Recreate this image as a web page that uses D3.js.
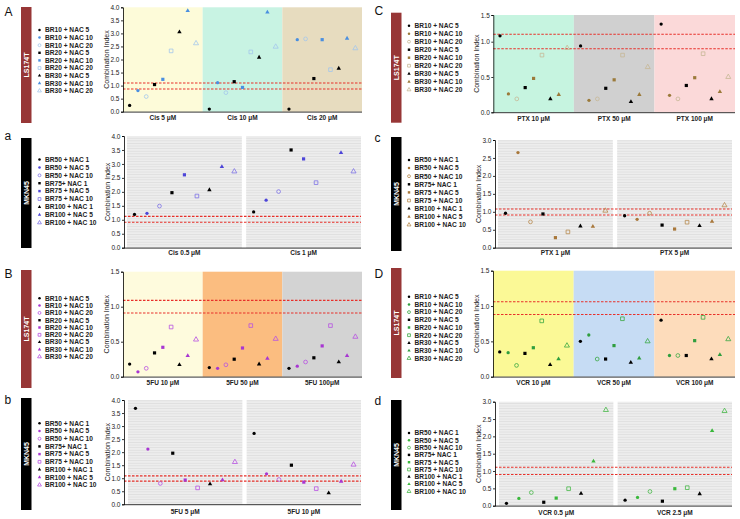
<!DOCTYPE html>
<html>
<head>
<meta charset="utf-8">
<script src="https://cdn.jsdelivr.net/npm/d3@7"></script>
<style>
  body { margin: 0; background: #fff; }
  svg { display: block; font-family: "Liberation Sans", Arial, sans-serif; }
</style>
</head>
<body>
<div id="chart"></div>
<script>
// legend labels
var legendLS = ['BR10 + NAC 5', 'BR10 + NAC 10', 'BR10 + NAC 20', 'BR20 + NAC 5', 'BR20 + NAC 10',
  'BR20 + NAC 20', 'BR30 + NAC 5', 'BR30 + NAC 10', 'BR30 + NAC 20'];
var legendMKN = ['BR50 + NAC 1', 'BR50 + NAC 5', 'BR50 + NAC 10', 'BR75+ NAC 1', 'BR75 + NAC 5',
  'BR75 + NAC 10', 'BR100 + NAC 1', 'BR100 + NAC 5', 'BR100 + NAC 10'];

// A - LS174T cisplatin
var groupsA = ['Cis 5 \u03bcM', 'Cis 10 \u03bcM', 'Cis 20 \u03bcM'];
var valuesA = [
  [0.24, 0.81, 0.58, 1.04, 1.24, 2.33, 3.05, 3.87, 2.62],
  [0.10, 1.11, 0.73, 1.15, 0.93, 2.29, 2.08, 3.81, 2.49],
  [0.10, 2.76, 2.79, 1.27, 2.76, 1.61, 1.66, 2.81, 2.43]
];
var ticksA = [0, 0.5, 1, 1.5, 2, 2.5, 3, 3.5, 4];
var cutA = [1.1, 0.87];

// a - MKN45 cisplatin
var groupsa = ['Cis 0.5 \u03bcM', 'Cis 1 \u03bcM'];
var valuesa = [
  [1.19, 1.23, 1.49, 1.97, 2.61, 1.85, 2.07, 2.90, 2.73],
  [1.28, 1.70, 2.01, 3.50, 3.18, 2.33, null, 3.40, 2.73]
];
var ticksa = [0, 0.5, 1, 1.5, 2, 2.5, 3, 3.5, 4];
var cuta = [1.12, 0.91];

// B - LS174T 5FU
var groupsB = ['5FU 10 \u03bcM', '5FU 50 \u03bcM', '5FU 100\u03bcM'];
var valuesB = [
  [0.18, 0.07, 0.12, 0.34, 0.42, 0.71, 0.17, 0.30, 0.53],
  [0.13, 0.12, 0.17, 0.25, 0.41, 0.73, 0.18, 0.26, 0.54],
  [0.12, 0.15, 0.21, 0.27, 0.44, 0.73, 0.21, 0.30, 0.57]
];
var ticksB = [0, 0.5, 1, 1.5];
var cutB = [1.09, 0.91];

// b - MKN45 5FU
var groupsb = ['5FU 5 \u03bcM', '5FU 10 \u03bcM'];
var valuesb = [
  [3.68, 2.12, 0.80, 1.96, 0.93, 0.63, 0.78, 0.93, 1.62],
  [2.72, 1.17, 0.95, 1.50, 0.85, 0.60, 0.43, 0.88, 1.52]
];
var ticksb = [0, 0.5, 1, 1.5, 2, 2.5, 3, 3.5, 4];
var cutb = [1.09, 0.89];

// C - LS174T paclitaxel
var groupsC = ['PTX 10 \u03bcM', 'PTX 50 \u03bcM', 'PTX 100 \u03bcM'];
var valuesC = [
  [1.11, 0.26, 0.19, 0.35, 0.48, 0.81, 0.19, 0.25, 0.91],
  [0.94, 0.17, 0.19, 0.34, 0.46, 0.81, 0.15, 0.25, 0.64],
  [1.33, 0.24, 0.19, 0.38, 0.49, 0.83, 0.19, 0.29, 0.50]
];
var ticksC = [0, 0.5, 1, 1.5];
var cutC = [1.14, 0.90];

// c - MKN45 paclitaxel
var groupsc = ['PTX 1 \u03bcM', 'PTX 5 \u03bcM'];
var valuesc = [
  [0.96, 2.65, 0.72, 0.94, 0.28, 0.44, 0.60, 0.59, 1.03],
  [0.89, 0.79, 0.96, 0.63, 0.52, 0.71, 0.61, 0.73, 1.18]
];
var ticksc = [0, 0.5, 1, 1.5, 2, 2.5, 3];
var cutc = [1.08, 0.91];

// D - LS174T vincristine
var groupsD = ['VCR 10 \u03bcM', 'VCR 50 \u03bcM', 'VCR 100 \u03bcM'];
var valuesD = [
  [0.35, 0.34, 0.16, 0.33, 0.41, 0.79, 0.17, 0.25, 0.44],
  [0.50, 0.59, 0.25, 0.25, 0.44, 0.82, 0.20, 0.26, 0.50],
  [0.80, 0.30, 0.30, 0.30, 0.51, 0.84, 0.25, 0.31, 0.53]
];
var ticksD = [0, 0.5, 1, 1.5];
var cutD = [1.06, 0.88];

// d - MKN45 vincristine
var groupsd = ['VCR 0.5 \u03bcM', 'VCR 2.5 \u03bcM'];
var valuesd = [
  [0.07, 0.21, 0.38, 0.10, 0.22, 0.49, 0.35, 1.28, 2.76],
  [0.16, 0.24, 0.41, 0.13, 0.49, 0.52, 0.34, 2.16, 2.73]
];
var ticksd = [0, 0.5, 1, 1.5, 2, 2.5, 3];
var cutd = [1.11, 0.90];

var W = 740, H = 519;
var svg = d3.select('#chart').append('svg').attr('width', W).attr('height', H);

// striped gray for the MKN45 panels
var pat = svg.append('defs').append('pattern')
  .attr('id', 'stripes').attr('patternUnits', 'userSpaceOnUse')
  .attr('width', 4).attr('height', 2.6);
pat.append('rect').attr('width', 4).attr('height', 2.6).attr('fill', '#ededed');
pat.append('rect').attr('width', 4).attr('height', 0.8).attr('fill', '#dedede');

var shapes = [d3.symbolCircle, d3.symbolCircle, d3.symbolCircle, d3.symbolSquare, d3.symbolSquare,
  d3.symbolSquare, d3.symbolTriangle, d3.symbolTriangle, d3.symbolTriangle];

var panels = [
  { letter: 'A', cell: 'LS174T', bar: '#973636', groups: groupsA, values: valuesA, ticks: ticksA, cut: cutA,
    top: 7.3, bottom: 111.7, left: 123, bandL: 123, bandR: 362, gap: 0, bands: ['#fdfbd9', '#c8f3e3', '#e7dcbf'],
    legend: legendLS, legX: 39.5, legY: 30, legStep: 7.6, barX: 21, barY: 7, barH: 116, letY: 16, labY: 120,
    col: '#4a8fe0', open: '#a3c6ec', pad: 0.8 },
  { letter: 'a', cell: 'MKN45', bar: '#000', groups: groupsa, values: valuesa, ticks: ticksa, cut: cuta,
    top: 136, bottom: 247.7, left: 124, bandL: 127, bandR: 361, gap: 0.036, bands: null,
    legend: legendMKN, legX: 39.5, legY: 159.5, legStep: 7.9, barX: 21, barY: 138, barH: 110, letY: 140, labY: 254.5,
    col: '#4d45d8', open: '#7d72e6', pad: 0.6 },
  { letter: 'B', cell: 'LS174T', bar: '#973636', groups: groupsB, values: valuesB, ticks: ticksB, cut: cutB,
    top: 271.7, bottom: 376.7, left: 123, bandL: 123, bandR: 362, gap: 0, bands: ['#fefbdd', '#fbbd80', '#d3d3d3'],
    legend: legendLS, legX: 39.5, legY: 298.3, legStep: 7.3, barX: 21, barY: 270, barH: 118, letY: 278, labY: 385,
    col: '#a836d2', open: '#b752e2', pad: 0.8 },
  { letter: 'b', cell: 'MKN45', bar: '#000', groups: groupsb, values: valuesb, ticks: ticksb, cut: cutb,
    top: 400, bottom: 504.3, left: 124, bandL: 128, bandR: 361, gap: 0.036, bands: null,
    legend: legendMKN, legX: 39.5, legY: 423.3, legStep: 7.7, barX: 21, barY: 398, barH: 112, letY: 404, labY: 514,
    col: '#a836d2', open: '#b752e2', pad: 0.6 },
  { letter: 'C', cell: 'LS174T', bar: '#973636', groups: groupsC, values: valuesC, ticks: ticksC, cut: cutC,
    top: 15, bottom: 112.3, left: 493.3, bandL: 493.3, bandR: 735, gap: 0, bands: ['#c6f4e0', '#d0d0d0', '#fbd9d9'],
    legend: legendLS, legX: 409, legY: 25.7, legStep: 8, barX: 391, barY: 12.7, barH: 110, letY: 15, labY: 120.5,
    col: '#9b7a3a', open: '#c6b896', pad: 0.8, yMid: 41.7 },
  { letter: 'c', cell: 'MKN45', bar: '#000', groups: groupsc, values: valuesc, ticks: ticksc, cut: cutc,
    top: 140, bottom: 247.7, left: 495, bandL: 498, bandR: 732, gap: 0.036, bands: null,
    legend: legendMKN, legX: 409, legY: 160, legStep: 8.1, barX: 391, barY: 137, barH: 114, letY: 142, labY: 255,
    col: '#a8773a', open: '#b88a4e', pad: 0.6 },
  { letter: 'D', cell: 'LS174T', bar: '#973636', groups: groupsD, values: valuesD, ticks: ticksD, cut: cutD,
    top: 270.7, bottom: 376.7, left: 493, bandL: 493, bandR: 735, gap: 0, bands: ['#fbf996', '#c6dcf4', '#fddcbb'],
    legend: legendLS, legX: 409, legY: 296.7, legStep: 7.7, barX: 391, barY: 268, barH: 110, letY: 278, labY: 385,
    col: '#2f9e3e', open: '#3aa842', pad: 0.8 },
  { letter: 'd', cell: 'MKN45', bar: '#000', groups: groupsd, values: valuesd, ticks: ticksd, cut: cutd,
    top: 401.7, bottom: 505.7, left: 495, bandL: 499, bandR: 732, gap: 0.036, bands: null,
    legend: legendMKN, legX: 409, legY: 433, legStep: 7.3, barX: 391, barY: 400, barH: 110, letY: 405, labY: 515,
    col: '#3ab83c', open: '#46b848', pad: 0.6 }
];

function marker(sel, i, col, open, size) {
  var kind = i % 3;
  var area = kind == 2 ? size * 1.3 : size;
  if (shapes[i] == d3.symbolSquare) area *= 1.2;
  sel.attr('d', d3.symbol().type(shapes[i]).size(area))
    .attr('fill', kind == 0 ? '#000' : (kind == 1 ? col : 'none'))
    .attr('stroke', kind == 2 ? open : 'none')
    .attr('stroke-width', 0.8);
}

panels.forEach(function(p) {
  var g = svg.append('g');
  var top = p.top, bottom = p.bottom;
  var maxT = d3.max(p.ticks);

  var y = d3.scaleLinear().domain([0, maxT]).range([bottom, top]);
  if (p.yMid) y = d3.scaleLinear().domain([0, 1, maxT]).range([bottom, p.yMid, top]);

  var x = d3.scaleBand().domain(p.groups).range([p.bandL, p.bandR]).paddingInner(p.gap);
  var inner = d3.scalePoint().domain(d3.range(9)).range([0, x.bandwidth()]).padding(p.pad);

  // background bands
  g.selectAll('rect.band').data(p.groups).enter().append('rect')
    .attr('x', function(d) { return x(d); })
    .attr('y', top).attr('width', x.bandwidth()).attr('height', bottom - top)
    .attr('fill', function(d, i) { return p.bands ? p.bands[i] : 'url(#stripes)'; });

  // dashed cutoff lines
  g.selectAll('line.cut').data(p.cut).enter().append('line')
    .attr('x1', p.left).attr('x2', p.bandR)
    .attr('y1', function(d) { return y(d); }).attr('y2', function(d) { return y(d); })
    .attr('stroke', '#e8302a').attr('stroke-width', 1.1).attr('stroke-dasharray', '2.5,1.5');

  // y axis
  var ax = g.append('g').attr('transform', 'translate(' + p.left + ',0)')
    .call(d3.axisLeft(y).tickValues(p.ticks).tickFormat(d3.format('.1f')).tickSize(2).tickPadding(1.5));
  ax.select('.domain').attr('stroke', '#000').attr('stroke-width', 0.8);
  ax.selectAll('.tick line').attr('stroke', '#000').attr('stroke-width', 0.8);
  ax.selectAll('text').attr('font-size', 6.5).attr('fill', '#222')
    .attr('font-family', '"Liberation Sans", Arial, sans-serif');

  // x axis line
  g.append('line').attr('x1', p.left).attr('x2', p.bandR).attr('y1', bottom + 0.4).attr('y2', bottom + 0.4)
    .attr('stroke', '#000').attr('stroke-width', 0.8);

  // group labels
  g.selectAll('text.grp').data(p.groups).enter().append('text')
    .attr('x', function(d) { return x(d) + x.bandwidth() / 2; })
    .attr('y', p.labY).attr('text-anchor', 'middle')
    .attr('font-size', 6.5).attr('font-weight', 'bold').attr('fill', '#222')
    .text(function(d) { return d; });

  // y title
  g.append('text')
    .attr('transform', 'translate(' + (p.left - 14) + ',' + ((top + bottom) / 2) + ') rotate(-90)')
    .attr('text-anchor', 'middle').attr('font-size', 7).attr('fill', '#222')
    .text('Combination Index');

  // data points
  p.values.forEach(function(vals, gi) {
    var gname = p.groups[gi];
    vals.forEach(function(v, i) {
      if (v == null) return;
      g.append('path')
        .attr('transform', 'translate(' + (x(gname) + inner(i)) + ',' + y(v) + ')')
        .call(marker, i, p.col, p.open, 8.5);
    });
  });

  // side bar with cell line name
  g.append('rect').attr('x', p.barX).attr('y', p.barY).attr('width', 10.5).attr('height', p.barH)
    .attr('fill', p.bar);
  g.append('text')
    .attr('transform', 'translate(' + (p.barX + 7.7) + ',' + (p.barY + p.barH / 2) + ') rotate(-90)')
    .attr('text-anchor', 'middle').attr('font-size', 7).attr('font-weight', 'bold').attr('fill', '#fff')
    .text(p.cell);

  // panel letter
  g.append('text').attr('x', p.barX - 16.5).attr('y', p.letY)
    .attr('font-size', 12).attr('fill', '#111').text(p.letter);

  // legend
  var leg = g.selectAll('g.leg').data(p.legend).enter().append('g')
    .attr('transform', function(d, i) { return 'translate(' + p.legX + ',' + (p.legY + i * p.legStep) + ')'; });
  leg.append('path').each(function(d, i) { d3.select(this).call(marker, i, p.col, p.open, 5); });
  leg.append('text').attr('x', 5.5).attr('y', 2.3).attr('font-size', 6.6).attr('font-weight', 'bold')
    .attr('fill', '#222').text(function(d) { return d; });
});
</script>
</body>
</html>
